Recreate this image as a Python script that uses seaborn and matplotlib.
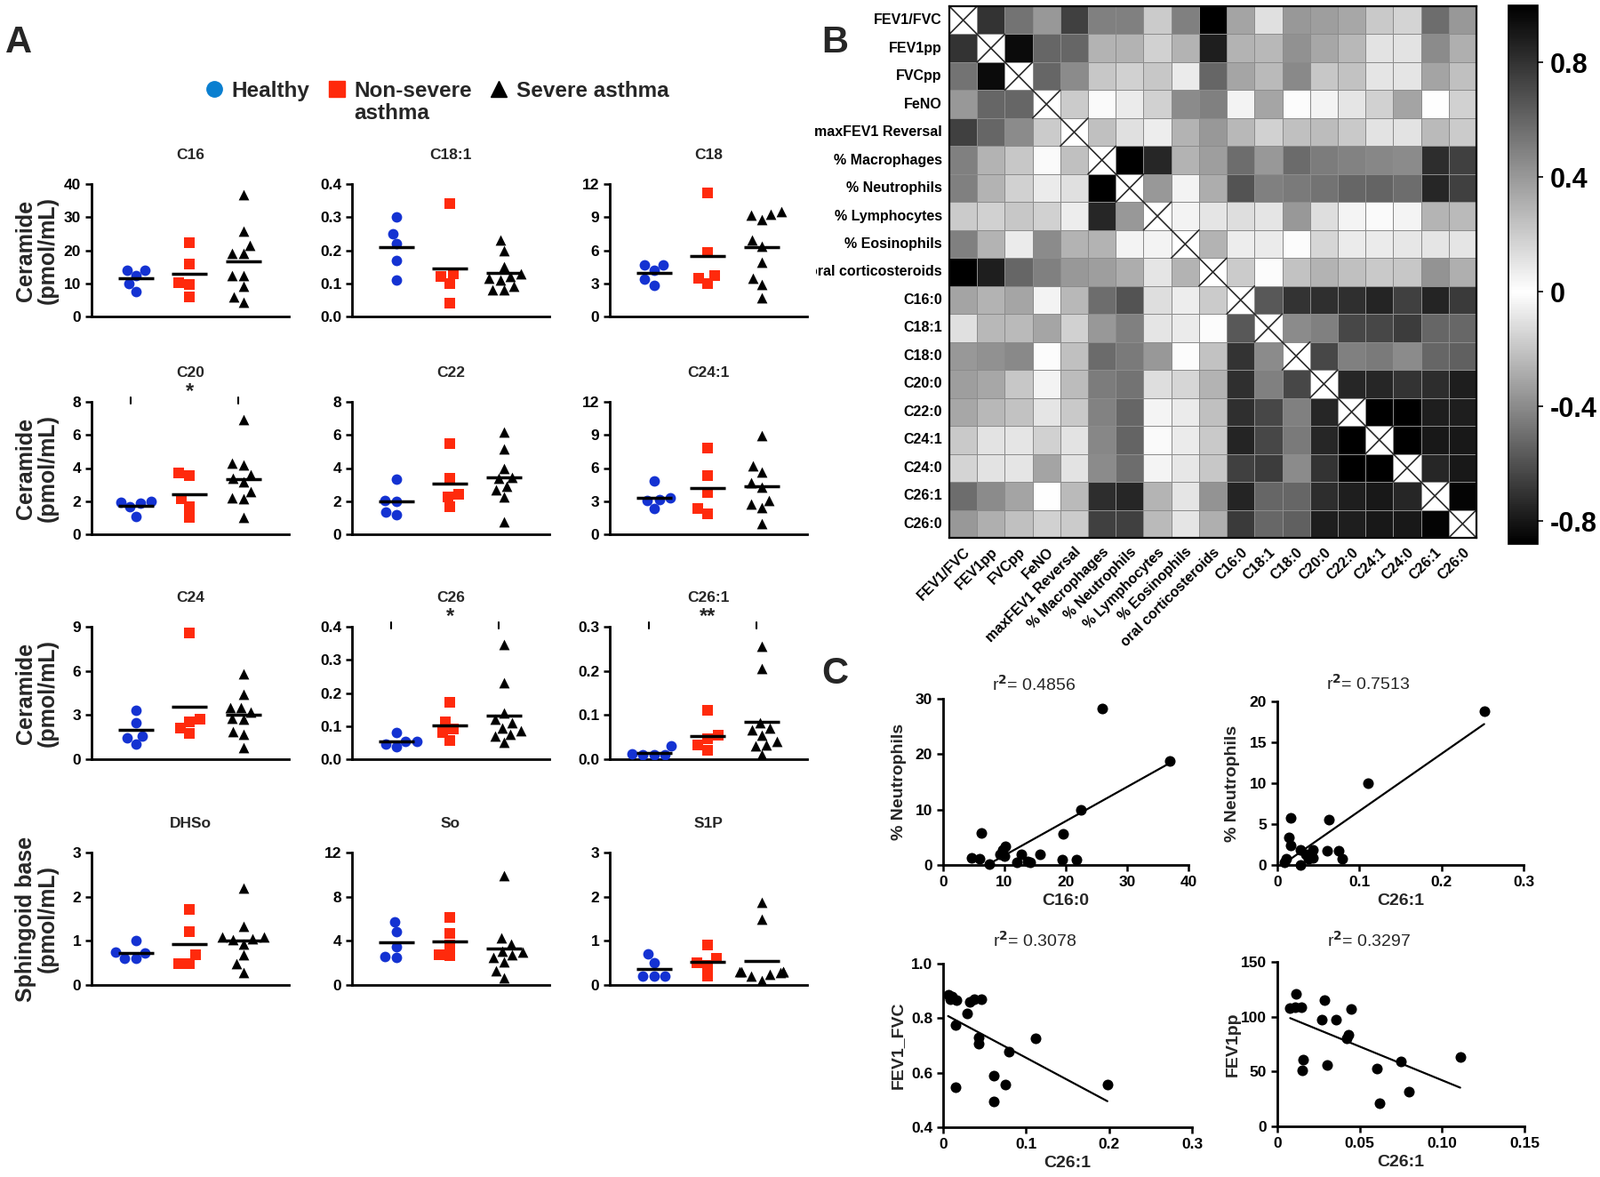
import matplotlib
matplotlib.use('Agg')
import matplotlib.pyplot as plt
import seaborn as sns
import numpy as np
import pandas as pd
from matplotlib.colors import LinearSegmentedColormap
from matplotlib.lines import Line2D
from matplotlib.transforms import Bbox, TransformedBbox

# ---- panel A: ceramides / sphingoid bases per group ----
groups = ['Healthy', 'Non-severe\nasthma', 'Severe asthma']
group_colors = ['#1432d2', '#ff2a0c', '#000000']
group_markers = ['o', 's', '^']

c16 = [[14.0, 14.0, 12.3, 10.0, 7.6],
       [22.4, 15.8, 10.3, 9.6, 6.0],
       [36.7, 25.7, 21.6, 19.1, 19.1, 12.3, 12.4, 9.1, 6.0, 4.4]]
c18_1 = [[0.30, 0.25, 0.22, 0.17, 0.11],
         [0.34, 0.13, 0.12, 0.10, 0.04],
         [0.23, 0.20, 0.15, 0.13, 0.12, 0.115, 0.11, 0.09, 0.08, 0.08]]
c18 = [[4.7, 4.7, 4.2, 3.35, 2.8],
       [11.2, 5.8, 3.7, 3.5, 3.0],
       [9.5, 9.3, 9.2, 8.8, 6.9, 6.4, 4.9, 3.5, 2.9, 1.7]]
c20 = [[2.0, 1.95, 1.9, 1.65, 1.1],
       [3.69, 3.56, 2.14, 1.69, 1.02],
       [6.95, 4.3, 4.2, 3.6, 3.4, 3.15, 2.6, 2.2, 2.15, 1.0]]
c22 = [[3.35, 2.05, 2.0, 1.35, 1.2],
       [5.5, 3.37, 2.4, 2.26, 1.64],
       [6.15, 5.15, 3.96, 3.46, 3.4, 2.71, 2.92, 2.26, 0.75]]
c24_1 = [[4.8, 3.3, 3.13, 3.05, 2.33],
         [7.8, 5.32, 3.8, 2.33, 1.87],
         [8.9, 6.2, 5.6, 4.7, 4.3, 3.1, 2.7, 2.4, 1.0]]
c24 = [[3.3, 2.5, 1.57, 1.47, 1.0],
       [8.6, 2.73, 2.51, 2.13, 1.73],
       [5.8, 4.4, 3.5, 3.5, 3.2, 2.8, 2.7, 1.9, 1.7, 0.8]]
c26 = [[0.081, 0.055, 0.053, 0.045, 0.037],
       [0.173, 0.113, 0.09, 0.08, 0.056],
       [0.345, 0.23, 0.14, 0.12, 0.11, 0.095, 0.085, 0.075, 0.07, 0.05]]
c26_1 = [[0.03, 0.012, 0.01, 0.01, 0.01],
         [0.11, 0.054, 0.047, 0.032, 0.021],
         [0.255, 0.205, 0.083, 0.07, 0.066, 0.054, 0.04, 0.033, 0.03, 0.01]]
dhso = [[1.0, 0.74, 0.73, 0.6, 0.6],
        [1.71, 1.21, 0.69, 0.49, 0.49],
        [2.2, 1.33, 1.08, 1.08, 1.05, 1.03, 0.93, 0.69, 0.48, 0.29]]
so = [[5.74, 4.8, 3.5, 2.5, 2.59],
      [6.15, 4.67, 3.64, 2.64, 2.72],
      [9.9, 4.25, 3.7, 3.1, 3.0, 2.7, 2.5, 2.1, 1.3, 0.65]]
s1p = [[0.71, 0.51, 0.2, 0.2, 0.2],
       [0.9, 0.6, 0.5, 0.45, 0.2],
       [1.88, 1.5, 0.3, 0.3, 0.3, 0.3, 0.28, 0.25, 0.2, 0.1]]

panel_titles = ['C16', 'C18:1', 'C18', 'C20', 'C22', 'C24:1', 'C24', 'C26', 'C26:1', 'DHSo', 'So', 'S1P']
panel_values = [c16, c18_1, c18, c20, c22, c24_1, c24, c26, c26_1, dhso, so, s1p]
panel_ymax = [40, 0.4, 12, 8, 8, 12, 9, 0.4, 0.3, 3, 12, 3]
panel_ystep = [10, 0.1, 3, 2, 2, 3, 3, 0.1, 0.1, 1, 4, 1]
panel_sig = [None, None, None, '*', None, None, None, '*', '**', None, None, None]
row_ylabels = ['Ceramide\n(pmol/mL)', 'Ceramide\n(pmol/mL)', 'Ceramide\n(pmol/mL)', 'Sphingoid base\n(pmol/mL)']

# ---- panel B: correlation matrix (lower triangle) ----
hm_labels = ['FEV1/FVC', 'FEV1pp', 'FVCpp', 'FeNO', 'maxFEV1 Reversal', '% Macrophages',
             '% Neutrophils', '% Lymphocytes', '% Eosinophils', 'oral corticosteroids',
             'C16:0', 'C18:1', 'C18:0', 'C20:0', 'C22:0', 'C24:1', 'C24:0', 'C26:1', 'C26:0']
corr_lower = [
    [],
    [0.80],
    [0.55, 0.95],
    [0.40, 0.60, 0.60],
    [0.75, 0.60, 0.45, 0.20],
    [0.50, 0.30, 0.22, 0.02, 0.25],
    [0.50, 0.30, 0.18, 0.08, 0.12, 1.00],
    [0.20, 0.18, 0.22, 0.18, 0.07, 0.85, 0.40],
    [0.50, 0.30, 0.08, 0.45, 0.30, 0.30, 0.05, 0.05],
    [1.00, 0.88, 0.60, 0.50, 0.40, 0.38, 0.32, 0.10, 0.30],
    [0.36, 0.30, 0.35, 0.05, 0.28, 0.57, 0.67, 0.13, 0.07, 0.20],
    [0.12, 0.28, 0.27, 0.35, 0.18, 0.40, 0.50, 0.10, 0.08, 0.01, 0.65],
    [0.40, 0.43, 0.46, 0.01, 0.25, 0.58, 0.52, 0.40, 0.01, 0.24, 0.80, 0.45],
    [0.38, 0.34, 0.22, 0.05, 0.26, 0.51, 0.55, 0.13, 0.16, 0.30, 0.81, 0.50, 0.72],
    [0.34, 0.28, 0.24, 0.10, 0.21, 0.49, 0.60, 0.04, 0.08, 0.25, 0.81, 0.72, 0.50, 0.85],
    [0.21, 0.11, 0.10, 0.18, 0.11, 0.47, 0.61, 0.02, 0.08, 0.21, 0.86, 0.72, 0.52, 0.85, 1.00],
    [0.17, 0.11, 0.10, 0.36, 0.11, 0.45, 0.57, 0.04, 0.09, 0.22, 0.75, 0.76, 0.45, 0.80, 1.00, 1.00],
    [0.57, 0.45, 0.36, 0.00, 0.27, 0.82, 0.85, 0.29, 0.10, 0.42, 0.86, 0.60, 0.60, 0.82, 0.88, 0.90, 0.85],
    [0.40, 0.31, 0.25, 0.18, 0.20, 0.75, 0.75, 0.27, 0.10, 0.31, 0.77, 0.59, 0.62, 0.88, 0.88, 0.90, 0.90, 0.98],
]
cbar_ticks = [0.8, 0.4, 0, -0.4, -0.8]

# ---- panel C: correlations ----
s1_x = [26.0, 37.0, 22.5, 6.3, 19.5, 4.7, 6.0, 7.6, 9.3, 9.7, 10.1, 10.0, 12.1, 12.8, 13.7, 14.2, 15.8, 19.4, 21.7]
s1_y = [28.2, 18.7, 10.0, 5.7, 5.6, 1.3, 1.05, 0.1, 1.9, 2.8, 3.4, 1.6, 0.5, 1.9, 0.6, 0.5, 1.9, 0.9, 0.9]
s2_x = [0.252, 0.111, 0.063, 0.016, 0.014, 0.016, 0.011, 0.009, 0.028, 0.028, 0.035, 0.043, 0.043, 0.038, 0.061, 0.075, 0.079]
s2_y = [18.8, 10.0, 5.5, 5.8, 3.4, 2.4, 0.75, 0.3, 0.0, 1.85, 1.26, 1.85, 0.86, 0.75, 1.77, 1.77, 0.79]
s3_x = [0.006, 0.011, 0.016, 0.029, 0.032, 0.038, 0.046, 0.015, 0.043, 0.043, 0.015, 0.079, 0.061, 0.075, 0.061, 0.111, 0.198, 0.009]
s3_y = [0.886, 0.879, 0.865, 0.818, 0.86, 0.868, 0.868, 0.776, 0.729, 0.705, 0.547, 0.676, 0.588, 0.556, 0.496, 0.727, 0.556, 0.87]
s4_x = [0.0114, 0.0078, 0.0106, 0.0147, 0.0156, 0.0153, 0.0286, 0.0272, 0.0356, 0.045, 0.0433, 0.042, 0.030, 0.0606, 0.0619, 0.075, 0.080, 0.111]
s4_y = [121, 107.6, 109, 109, 60.5, 51.2, 115.5, 97.4, 97.4, 106.7, 83.9, 80.4, 55.6, 52.6, 21.1, 59.4, 31.3, 63.5]

sns.set_style('ticks')
plt.rcParams['font.family'] = ['Liberation Sans', 'DejaVu Sans']
plt.rcParams['font.weight'] = 'bold'
plt.rcParams['axes.linewidth'] = 2
plt.rcParams['axes.edgecolor'] = 'black'
plt.rcParams['xtick.color'] = 'black'
plt.rcParams['ytick.color'] = 'black'
plt.rcParams['axes.labelweight'] = 'bold'

W, H = 1800, 1324
fig = plt.figure(figsize=(W / 100, H / 100), dpi=100)


def px_axes(left, top, width, height):
    return fig.add_axes([left / W, 1 - (top + height) / H, width / W, height / H])


def fmt_tick(t, step):
    if step < 1:
        return f'{t:.1f}'
    return f'{int(round(t))}'


def strip_panel(ax, title, values, ymax, ystep, sig):
    rows = []
    for g, vals in zip(groups, values):
        rows += [(g, v) for v in vals]
    df = pd.DataFrame(rows, columns=['group', 'value'])
    for g, c, m in zip(groups, group_colors, group_markers):
        sns.swarmplot(data=df[df['group'] == g], x='group', y='value', order=groups,
                      color=c, marker=m, size=8.5, linewidth=0, ax=ax, zorder=3)
    for i, vals in enumerate(values):
        ax.hlines(np.mean(vals), i - 0.33, i + 0.33, color='black', lw=2.5, zorder=4)
    ax.set_xlim(-0.82, 2.85)
    ax.set_ylim(0, ymax)
    ticks = np.arange(0, ymax + ystep / 2, ystep)
    ax.set_yticks(ticks, [fmt_tick(t, ystep) for t in ticks])
    ax.set_xticks([])
    ax.set_xlabel('')
    ax.set_ylabel('')
    ax.tick_params(axis='y', labelsize=12.5, length=5, width=1.8)
    sns.despine(ax=ax)
    ax.set_title(title, fontsize=12.5, fontweight='bold', pad=20)
    if sig:
        for xi in (0, 2):
            ax.plot([xi - 0.1, xi - 0.1], [ymax * 0.985, ymax * 1.035], color='black', lw=1.5, clip_on=False)
        ax.text(1, ymax * 1.0, sig, ha='center', va='bottom', fontsize=17, fontweight='bold')


# ---- panel A ----
col_left = [103, 396, 686]
row_top = [207, 452, 705, 959]
for k, (title, vals) in enumerate(zip(panel_titles, panel_values)):
    r, c = divmod(k, 3)
    ax = px_axes(col_left[c], row_top[r], 222, 149)
    strip_panel(ax, title, vals, panel_ymax[k], panel_ystep[k], panel_sig[k])
    if c == 0:
        ax.set_ylabel(row_ylabels[r], fontsize=18, fontweight='bold', linespacing=1.0)
        ax.yaxis.set_label_coords(-0.17, 0.5)

handles = [Line2D([], [], ls='', marker=m, color=c, markersize=12.5)
           for m, c in zip(group_markers, ['#0a7fd0', '#ff2a0c', '#000000'])]
legend_labels = [g.split('\n')[0] for g in groups]
leg = fig.legend(handles, legend_labels, ncol=3, frameon=False, fontsize=17.5, loc='upper left',
                 bbox_to_anchor=(207 / W, 1 - 69 / H), handletextpad=0.3, columnspacing=0.75,
                 handlelength=1.0)
fig.canvas.draw()
bb = leg.get_texts()[1].get_window_extent()
fig.text(bb.x0 / W, (bb.y0 - 2) / H, groups[1].split('\n')[1], ha='left', va='top',
         fontsize=17.5, fontweight='bold')

fig.text(6 / W, 1 - 28 / H, 'A', fontsize=30, fontweight='bold', va='top')
fig.text(924 / W, 1 - 28 / H, 'B', fontsize=30, fontweight='bold', va='top')
fig.text(924 / W, 1 - 738 / H, 'C', fontsize=30, fontweight='bold', va='top')

# ---- panel B ----
n = len(hm_labels)
corr = np.eye(n)
for i, row in enumerate(corr_lower):
    for j, v in enumerate(row):
        corr[i, j] = v
        corr[j, i] = v
corr_df = pd.DataFrame(corr, index=hm_labels, columns=hm_labels)

ax_hm = px_axes(1068, 7, 593, 598)
cax = px_axes(1697, 6, 33, 606)
cmap = LinearSegmentedColormap.from_list('absr', [(0, 'black'), (0.88 / 1.88, 'white'), (1, 'black')])
sns.heatmap(corr_df, mask=np.eye(n, dtype=bool), cmap=cmap, vmin=-0.88, vmax=1.0,
            linewidths=0.6, linecolor='#8c8c8c', cbar_ax=cax,
            cbar_kws={'ticks': cbar_ticks}, ax=ax_hm)
for i in range(n):
    ax_hm.plot([i, i + 1], [i, i + 1], color='#2a2a2a', lw=1.2)
    ax_hm.plot([i, i + 1], [i + 1, i], color='#2a2a2a', lw=1.2)
for sp in ax_hm.spines.values():
    sp.set_visible(True)
    sp.set_linewidth(1.6)
ax_hm.tick_params(length=0, pad=6)
ax_hm.set_yticks(np.arange(n) + 0.5, hm_labels, rotation=0, fontsize=11.5, fontweight='bold')
ax_hm.set_xticks(np.arange(n) + 0.5, hm_labels, rotation=45, ha='right',
                 rotation_mode='anchor', fontsize=11.5, fontweight='bold')
clip = TransformedBbox(Bbox([[918 / W, 0], [1, 1]]), fig.transFigure)
lbl = ax_hm.get_yticklabels()[9]
lbl.set_clip_box(clip)
lbl.set_clip_on(True)

cbar = ax_hm.collections[0].colorbar
cbar.set_ticks(cbar_ticks, labels=['0.8', '0.4', '0', '-0.4', '-0.8'])
cbar.ax.tick_params(labelsize=22, length=4, width=1.2, pad=6)
for t in cbar.ax.get_yticklabels():
    t.set_fontweight('bold')
cbar.outline.set_linewidth(1.2)

# ---- panel C ----
scatter_specs = [
    (1061, 786, 276, 187, s1_x, s1_y, 'C16:0', '% Neutrophils', '0.4856',
     [0, 10, 20, 30, 40], ['0', '10', '20', '30', '40'], [0, 10, 20, 30], ['0', '10', '20', '30'], 1.03),
    (1437, 789, 277, 184, s2_x, s2_y, 'C26:1', '% Neutrophils', '0.7513',
     [0, 0.1, 0.2, 0.3], ['0', '0.1', '0.2', '0.3'], [0, 5, 10, 15, 20], ['0', '5', '10', '15', '20'], 1.05),
    (1061, 1084, 280, 184, s3_x, s3_y, 'C26:1', 'FEV1_FVC', '0.3078',
     [0, 0.1, 0.2, 0.3], ['0', '0.1', '0.2', '0.3'], [0.4, 0.6, 0.8, 1.0], ['0.4', '0.6', '0.8', '1.0'], 1.08),
    (1437, 1082, 278, 185, s4_x, s4_y, 'C26:1', 'FEV1pp', '0.3297',
     [0, 0.05, 0.10, 0.15], ['0', '0.05', '0.10', '0.15'], [0, 50, 100, 150], ['0', '50', '100', '150'], 1.07),
]
for (left, top, w, h, xs, ys, xlab, ylab, r2, xt, xtl, yt, ytl, r2y) in scatter_specs:
    ax = px_axes(left, top, w, h)
    df = pd.DataFrame({'x': xs, 'y': ys})
    sns.regplot(data=df, x='x', y='y', ci=None, truncate=True, color='black',
                scatter_kws={'s': 75, 'alpha': 1, 'linewidths': 0, 'clip_on': False},
                line_kws={'lw': 1.6}, ax=ax)
    ax.set_xlim(xt[0], xt[-1])
    ax.set_ylim(yt[0], yt[-1])
    ax.set_xticks(xt, xtl)
    ax.set_yticks(yt, ytl)
    ax.tick_params(labelsize=12.5, length=5, width=1.8)
    sns.despine(ax=ax)
    ax.set_xlabel(xlab, fontsize=14, fontweight='bold')
    ax.set_ylabel(ylab, fontsize=14, fontweight='bold')
    ax.yaxis.set_label_coords(-0.15, 0.5)
    ax.text(0.37, r2y, r'r$^2$= ' + r2, transform=ax.transAxes, ha='center', va='bottom',
            fontsize=14, fontweight='normal')

fig.savefig('out.png', dpi=100)
